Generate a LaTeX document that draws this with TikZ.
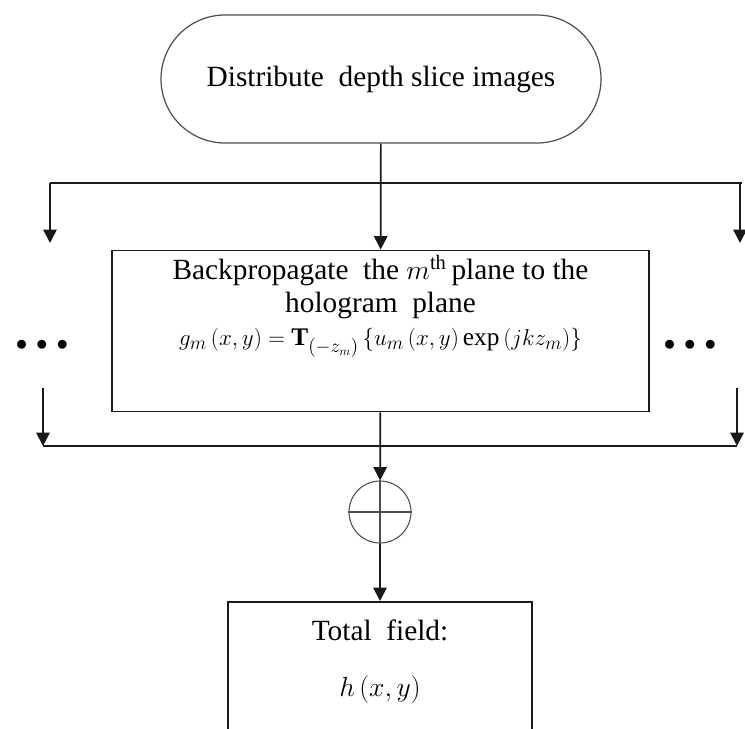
\documentclass[tikz,border=0pt]{standalone}
\usepackage{fontspec}
\setmainfont{Liberation Serif}
\usepackage{tikz}
\usetikzlibrary{arrows.meta,positioning}
\definecolor{OLine}{HTML}{1A1A1A}
\definecolor{OGrey}{HTML}{4D4D4D}

\begin{document}
\begin{tikzpicture}[
  x=0.75pt,y=-0.75pt,
  t/.style={draw=OGrey,line width=0.9pt,rounded corners=48pt,
    minimum width=330pt,minimum height=96pt,align=center,font=\fontsize{22}{25}\selectfont},
  b/.style={draw=OLine,line width=1.3pt,align=center,
    font=\fontsize{22}{25}\selectfont},
  s/.style={draw=OGrey,circle,line width=0.8pt,minimum size=46.5pt,inner sep=0pt},
  d/.style={inner sep=0pt,font=\fontsize{18}{18}\selectfont},
  l/.style={line width=1.3pt,color=OLine},
  a/.style={-{Triangle[length=10pt,width=10pt]},line width=1.3pt,color=OLine}
]
  \useasboundingbox (0,0) rectangle (745,728);
  \node[t] (start) at (381,79) {Distribute\ \ depth slice images};
  \node[b,minimum width=402.75pt,minimum height=118.5pt] (prop) at (380.5,331)
    {Backpropagate\ \ the $m^{\mathrm{th}}$\,plane to the\\
     hologram\ \ plane\\
     {\fontsize{19}{25}\selectfont$g_m\left(x,y\right)=\mathbf{T}_{(-z_m)}\left\{u_m\left(x,y\right)\exp\left(jkz_m\right)\right\}$}\\[21pt]\mbox{}};
  \node[s] (sum) at (380,512) {};
  \node[b,anchor=north,minimum width=228pt,minimum height=105pt] (total) at (380,601)
    {Total\ \ field:\\[17pt]$h\left(x,y\right)$\\[-4pt]\mbox{}};
  \node[d] (ldots) at (42,345) {$\bullet\,\bullet\,\bullet$};
  \node[d] (rdots) at (690,345) {$\bullet\,\bullet\,\bullet$};
  % split lines
  \coordinate (tl) at (50,183);
  \coordinate (tr) at (742,183);
  \coordinate (rt) at (740,183);
  \coordinate (lin) at (50,243);
  \coordinate (rin) at (740,243);
  \coordinate (lout) at (43,388);
  \coordinate (rout) at (737,388);
  \coordinate (bl) at (43,446);
  \coordinate (br) at (737,446);
  \draw[l] (tl) -- (tr);
  \draw[l] (bl) -- (br);
  \draw[a] (start) -- (prop);
  \draw[a] (tl) -- (lin);
  \draw[a] (rt) -- (rin);
  \draw[a] (lout) -- (bl);
  \draw[a] (rout) -- (br);
  \draw[a] (prop) -- (sum);
  \draw[a] (sum) -- (total);
  \draw[OGrey,line width=0.8pt] (sum.west) -- (sum.east) (sum.north) -- (sum.south);
\end{tikzpicture}
\end{document}
